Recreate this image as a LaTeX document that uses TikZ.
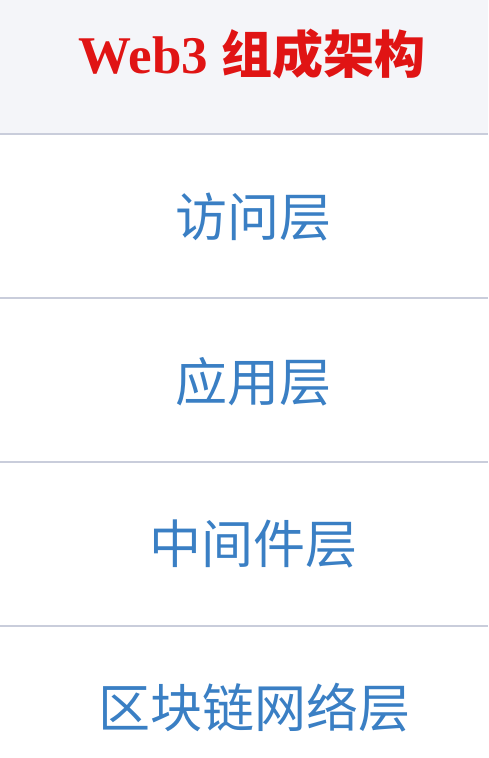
\documentclass[tikz,border=0pt]{standalone}
\usepackage{fontspec}
\setmainfont{Liberation Serif}
\newfontfamily\cjk{Noto Sans CJK SC}
\definecolor{headbg}{HTML}{F4F5F9}
\definecolor{sepline}{HTML}{C9CDDB}
\definecolor{titlered}{HTML}{E01414}
\definecolor{layerblue}{HTML}{3A7FC4}
\tikzset{
  layertext/.style={font=\cjk\fontsize{52}{62}\selectfont, text=layerblue, inner sep=0pt, anchor=center},
  titletext/.style={font=\bfseries\fontsize{53}{62}\selectfont, text=titlered, inner sep=0pt, anchor=center},
  sep/.style={draw=sepline, line width=2.5pt}
}
\begin{document}
\begin{tikzpicture}[x=1pt,y=-1pt]
\useasboundingbox (0,0) rectangle (488,758);
\fill[white] (0,0) rectangle (488,758);
\fill[headbg] (0,0) rectangle (488,134);
\coordinate (l1a) at (0,134); \coordinate (l1b) at (488,134);
\coordinate (l2a) at (0,298); \coordinate (l2b) at (488,298);
\coordinate (l3a) at (0,462); \coordinate (l3b) at (488,462);
\coordinate (l4a) at (0,626); \coordinate (l4b) at (488,626);
\draw[sep] (l1a) -- (l1b);
\draw[sep] (l2a) -- (l2b);
\draw[sep] (l3a) -- (l3b);
\draw[sep] (l4a) -- (l4b);
\node[titletext] (title) at (252,54) {Web3 {\cjk\fontsize{51}{62}\selectfont\bfseries 组成架构}};
\node[layertext] (access) at (253,217) {访问层};
\node[layertext] (app) at (253,382) {应用层};
\node[layertext] (middle) at (253,544) {中间件层};
\node[layertext] (chain) at (254,708) {区块链网络层};
\end{tikzpicture}
\end{document}
